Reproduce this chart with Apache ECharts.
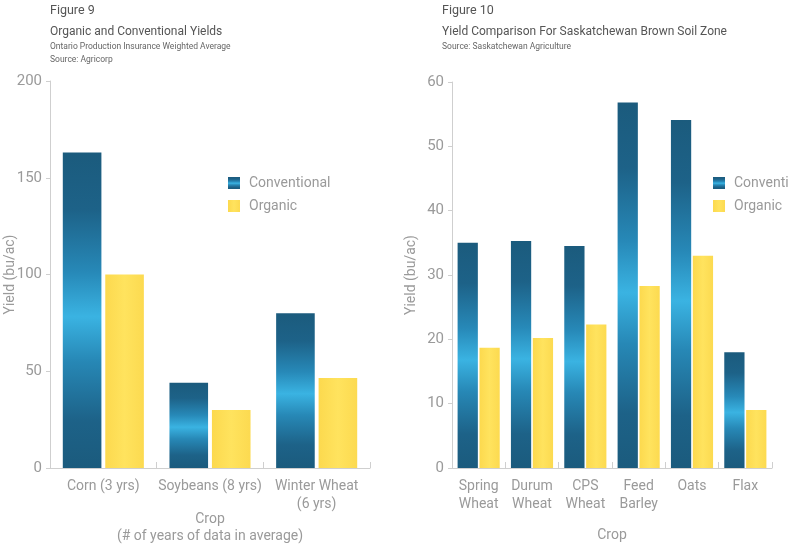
<!DOCTYPE html>
<html><head><meta charset="utf-8">
<script src="https://cdn.jsdelivr.net/npm/echarts@6/dist/echarts.min.js"></script>
<style>html,body{margin:0;padding:0;background:#fff}#c{width:789px;height:547px}</style>
</head><body><div id="c"></div>
<script>
const crops1 = ['Corn (3 yrs)', 'Soybeans (8 yrs)', 'Winter Wheat\n(6 yrs)'];
const conv1 = [163, 44, 80];
const org1 = [100, 30, 46.5];
const crops2 = ['Spring\nWheat', 'Durum\nWheat', 'CPS\nWheat', 'Feed\nBarley', 'Oats', 'Flax'];
const conv2 = [35, 35.3, 34.5, 56.8, 54.1, 18];
const org2 = [18.7, 20.2, 22.3, 28.3, 33, 9];
const yTicks1 = [0, 50, 100, 150, 200];
const yTicks2 = [0, 10, 20, 30, 40, 50, 60];

const FF = "Roboto,'Liberation Sans',sans-serif";
const TXT = '#9a9a9a';
const convColor = {type:'linear', x:0, y:0, x2:0, y2:1, colorStops:[
  {offset:0, color:'#1b5b7d'}, {offset:0.18, color:'#1d6288'}, {offset:0.38, color:'#2789b8'},
  {offset:0.52, color:'#3ab3e2'}, {offset:0.66, color:'#2788b6'}, {offset:0.85, color:'#1d6288'}, {offset:1, color:'#1b5b7d'}]};
const orgColor = {type:'linear', x:0, y:0, x2:1, y2:0, colorStops:[
  {offset:0, color:'#fcd94e'}, {offset:0.5, color:'#ffe35e'}, {offset:1, color:'#fcda50'}]};

const chart = echarts.init(document.getElementById('c'));
const axisCommon = {
  axisLine:{show:true, lineStyle:{color:'#cfcfcf', width:1}},
  splitLine:{show:false}
};
const tStyle = (s, c) => ({fontSize:s, color:c, fontWeight:'normal', fontFamily:FF});
chart.setOption({
  animation:false,
  textStyle:{fontFamily:FF},
  title:[
    {text:'Figure 9', left:50, top:4, padding:0, textStyle:tStyle(12.5,'#555')},
    {text:'Organic and Conventional Yields', left:50, top:26, padding:0, textStyle:tStyle(12,'#555')},
    {text:'Ontario Production Insurance Weighted Average', left:50, top:42, padding:0, textStyle:tStyle(8.5,'#666')},
    {text:'Source: Agricorp', left:50, top:55, padding:0, textStyle:tStyle(8.5,'#666')},
    {text:'Figure 10', left:442, top:4, padding:0, textStyle:tStyle(12.5,'#555')},
    {text:'Yield Comparison For Saskatchewan Brown Soil Zone', left:442, top:26, padding:0, textStyle:tStyle(12,'#555')},
    {text:'Source: Saskatchewan Agriculture', left:442, top:42, padding:0, textStyle:tStyle(8.5,'#666')}
  ],
  legend:[
    {left:228, top:176, padding:0, orient:'vertical', itemWidth:12, itemHeight:12, itemGap:9, icon:'rect',
     textStyle:{color:TXT, fontSize:14, fontFamily:FF, padding:[0,0,0,4]}, data:['Conventional','Organic']},
    {left:713, top:176, padding:0, orient:'vertical', itemWidth:12, itemHeight:12, itemGap:9, icon:'rect',
     textStyle:{color:TXT, fontSize:14, fontFamily:FF, padding:[0,0,0,4]}, data:['Conventional','Organic']}
  ],
  grid:[
    {left:50, right:419, top:81, bottom:79, outerBoundsMode:'none', containLabel:false},
    {left:452, right:17, top:82, bottom:79, outerBoundsMode:'none', containLabel:false}
  ],
  xAxis:[
    Object.assign({}, axisCommon, {type:'category', gridIndex:0, data:crops1,
      axisTick:{show:true, inside:true, length:6, lineStyle:{color:'#cfcfcf'}},
      axisLabel:{color:TXT, fontFamily:FF, fontSize:14, interval:0, margin:9, lineHeight:18},
      name:'Crop\n(# of years of data in average)', nameLocation:'middle', nameGap:43, nameMoveOverlap:false,
      nameTextStyle:{color:TXT, fontFamily:FF, fontSize:14, lineHeight:17}}),
    Object.assign({}, axisCommon, {type:'category', gridIndex:1, data:crops2,
      axisTick:{show:true, inside:true, length:6, lineStyle:{color:'#cfcfcf'}},
      axisLabel:{color:TXT, fontFamily:FF, fontSize:14, interval:0, margin:9, lineHeight:18},
      name:'Crop', nameLocation:'middle', nameGap:60, nameMoveOverlap:false,
      nameTextStyle:{color:TXT, fontFamily:FF, fontSize:14}})
  ],
  yAxis:[
    Object.assign({}, axisCommon, {type:'value', gridIndex:0, min:yTicks1[0], max:yTicks1[yTicks1.length-1], interval:50,
      axisTick:{show:true, length:4, lineStyle:{color:'#cfcfcf'}},
      axisLabel:{color:TXT, fontFamily:FF, fontSize:15, margin:8},
      name:'Yield (bu/ac)', nameLocation:'middle', nameGap:33, nameMoveOverlap:false,
      nameTextStyle:{color:TXT, fontFamily:FF, fontSize:14}}),
    Object.assign({}, axisCommon, {type:'value', gridIndex:1, min:yTicks2[0], max:yTicks2[yTicks2.length-1], interval:10,
      axisTick:{show:true, length:4, lineStyle:{color:'#cfcfcf'}},
      axisLabel:{color:TXT, fontFamily:FF, fontSize:15, margin:8},
      name:'Yield (bu/ac)', nameLocation:'middle', nameGap:34, nameMoveOverlap:false,
      nameTextStyle:{color:TXT, fontFamily:FF, fontSize:14}})
  ],
  series:[
    {name:'Conventional', type:'bar', xAxisIndex:0, yAxisIndex:0, data:conv1, barGap:'10%', barCategoryGap:'24%', itemStyle:{color:convColor}},
    {name:'Organic', type:'bar', xAxisIndex:0, yAxisIndex:0, data:org1, barGap:'10%', barCategoryGap:'24%', itemStyle:{color:orgColor}},
    {name:'Conventional', type:'bar', xAxisIndex:1, yAxisIndex:1, data:conv2, barGap:'8%', barCategoryGap:'21%', itemStyle:{color:convColor}},
    {name:'Organic', type:'bar', xAxisIndex:1, yAxisIndex:1, data:org2, barGap:'8%', barCategoryGap:'21%', itemStyle:{color:orgColor}}
  ]
});
</script></body></html>
